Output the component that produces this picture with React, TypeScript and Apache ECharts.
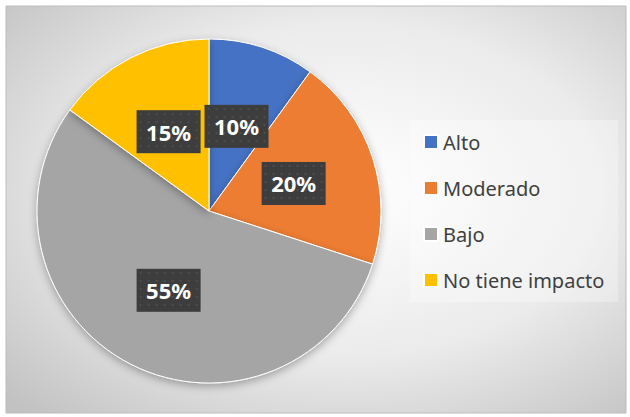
import React, { useEffect, useRef } from "react";
import * as echarts from "echarts";

const categories = ["Alto", "Moderado", "Bajo", "No tiene impacto"];
const values = [10, 20, 55, 15];
const colors = ["#4472C4", "#ED7D31", "#A5A5A5", "#FFC000"];

function makeDotImage(w: number, h: number): string {
  const c = document.createElement("canvas");
  c.width = w;
  c.height = h;
  const ctx = c.getContext("2d");
  if (!ctx) return "";
  ctx.fillStyle = "#3d3d3d";
  ctx.fillRect(0, 0, w, h);
  ctx.fillStyle = "#4d4d4d";
  for (let y = 3; y < h; y += 8) {
    for (let x = 3; x < w; x += 8) {
      ctx.fillRect(x, y, 2, 2);
    }
  }
  return c.toDataURL();
}

export default function App() {
  const ref = useRef<HTMLDivElement>(null);
  useEffect(() => {
    if (!ref.current) return;
    const chart = echarts.init(ref.current, undefined, { renderer: "svg" });
    const dots = makeDotImage(64, 43);
    chart.setOption({
      animation: false,
      graphic: [
        {
          type: "rect",
          z: -10,
          shape: { x: 6, y: 6, width: 620, height: 407 },
          style: {
            fill: new echarts.graphic.RadialGradient(0.55, 0.45, 0.75, [
              { offset: 0, color: "#ffffff" },
              { offset: 0.55, color: "#ebebeb" },
              { offset: 1, color: "#c2c2c2" },
            ]),
            stroke: "#bcbcbc",
            lineWidth: 1,
          },
        },
      ],
      legend: {
        orient: "vertical",
        left: 410,
        top: 120,
        padding: [12, 14, 12, 13],
        backgroundColor: "rgba(255,255,255,0.3)",
        borderWidth: 0,
        itemWidth: 14,
        itemHeight: 14,
        itemGap: 26,
        icon: "rect",
        data: categories,
        textStyle: {
          fontFamily: "Noto Sans",
          fontSize: 20,
          lineHeight: 20,
          color: "#404040",
        },
      },
      series: [
        {
          type: "pie",
          center: [209, 211],
          radius: 172,
          startAngle: 90,
          clockwise: true,
          data: categories.map((name, i) => ({
            name,
            value: values[i],
            itemStyle: { color: colors[i] },
          })),
          itemStyle: {
            borderColor: "#ffffff",
            borderWidth: 1,
            shadowBlur: 8,
            shadowOffsetY: 3,
            shadowColor: "rgba(0,0,0,0.3)",
          },
          label: {
            show: true,
            position: "inside",
            formatter: "{c}%",
            fontFamily: "Noto Sans",
            fontWeight: "bold",
            fontSize: 22,
            lineHeight: 23,
            color: "#ffffff",
            width: 48,
            height: 23,
            overflow: "none",
            align: "center",
            padding: [10, 8],
            backgroundColor: dots ? { image: dots } : "#3d3d3d",
            shadowBlur: 7,
            shadowOffsetX: 3,
            shadowOffsetY: 4,
            shadowColor: "rgba(0,0,0,0.45)",
          },
          labelLine: { show: false },
          emphasis: { disabled: true },
        },
      ],
    });
    return () => chart.dispose();
  }, []);
  return (
    <div
      ref={ref}
      style={{ position: "absolute", left: 0, top: 0, width: 630, height: 417, background: "#ffffff" }}
    />
  );
}
